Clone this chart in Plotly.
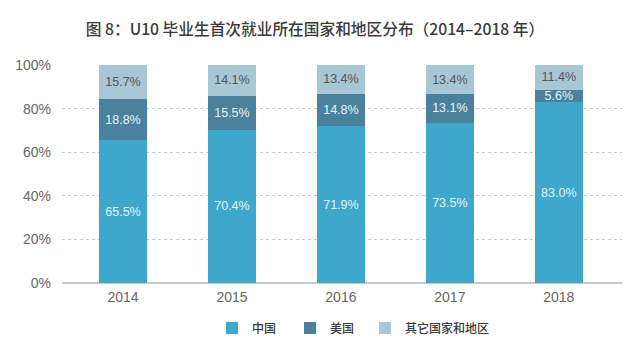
import plotly.graph_objects as go

years = ["2014", "2015", "2016", "2017", "2018"]
china = [65.5, 70.4, 71.9, 73.5, 83.0]
usa = [18.8, 15.5, 14.8, 13.1, 5.6]
others = [15.7, 14.1, 13.4, 13.4, 11.4]
series_names = ["中国", "美国", "其它国家和地区"]
y_ticks = [0, 20, 40, 60, 80, 100]
y_tick_labels = ["0%", "20%", "40%", "60%", "80%", "100%"]

colors = ["#3ea7cc", "#4a829e", "#a7c6d6"]
text_colors = ["#e6f2f8", "#e6f2f8", "#555555"]
legend_ids = ["legend", "legend2", "legend3"]
legend_left_px = [212, 290, 365]

W, H = 628, 357
FONT = "Liberation Sans, Noto Sans CJK SC, sans-serif"
x = list(range(len(years)))

fig = go.Figure()
for name, vals, c, tc, lg in zip(series_names, [china, usa, others], colors, text_colors, legend_ids):
    fig.add_trace(go.Bar(
        x=x, y=vals, name=name, legend=lg,
        marker=dict(color=c, line=dict(width=0)),
        width=0.44,
        text=[f"{v:.1f}%" for v in vals],
        textposition="inside", insidetextanchor="middle",
        textfont=dict(color=tc, size=12.5, family=FONT),
        constraintext="none",
        hoverinfo="skip",
    ))

legend_common = dict(orientation="h", yref="container", xref="container",
                     y=1 - 328 / H, yanchor="middle", xanchor="left",
                     font=dict(family="Noto Sans CJK SC, sans-serif", size=12, color="#3a3a3a", weight=500),
                     itemwidth=30, bgcolor="rgba(0,0,0,0)")
legends = {}
for lg, px in zip(legend_ids, legend_left_px):
    legends[lg] = dict(legend_common, x=px / W)

fig.update_layout(
    barmode="stack",
    width=W, height=H,
    margin=dict(l=62, r=6, t=65, b=74),
    paper_bgcolor="white", plot_bgcolor="white",
    title=dict(text="图 8：U10 毕业生首次就业所在国家和地区分布（2014–2018 年）",
               x=315 / W, xanchor="center", y=1 - 30 / H, yanchor="middle",
               font=dict(family="Noto Sans CJK SC, sans-serif", size=15.7, color="#3a3a3a", weight=500)),
    showlegend=True,
    uniformtext=dict(mode=False),
    **legends,
)
fig.update_xaxes(
    tickmode="array", tickvals=x, ticktext=years,
    range=[-0.56, 4.58],
    showgrid=False, zeroline=False,
    showline=False, ticks="",
    tickfont=dict(family=FONT, size=14, color="#666666"),
    ticklabelstandoff=4,
    fixedrange=True,
)
fig.update_yaxes(
    tickmode="array", tickvals=y_ticks, ticktext=y_tick_labels,
    range=[0, 100],
    showgrid=True, gridcolor="#c8c8c8", griddash="dot", gridwidth=1,
    zeroline=True, zerolinecolor="#c8c8c8", zerolinewidth=1.5,
    showline=False, ticks="",
    tickfont=dict(family=FONT, size=14, color="#666666"),
    ticklabelstandoff=10,
    fixedrange=True,
)

fig.write_html("out.html", config={"displayModeBar": False},
               post_script="document.body.style.margin='0';")
